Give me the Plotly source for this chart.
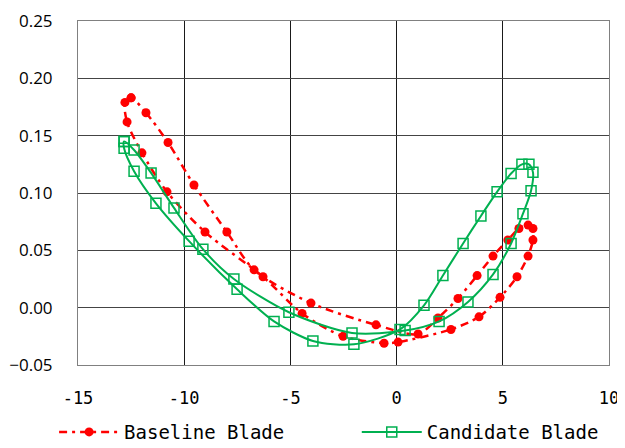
import plotly.graph_objects as go

# Baseline Blade (closed loop)
baseline_x = [-12.50, -11.80, -10.76, -9.54, -7.99, -6.71, -4.03, -0.97, 1.01, 1.95,
              2.89, 3.79, 4.54, 5.24, 5.76, 6.19, 6.42, 6.42, 6.19, 5.67,
              4.87, 3.88, 2.56, 0.07, -0.59, -2.52, -4.45, -6.29, -9.02, -10.81,
              -11.99, -12.69, -12.79, -12.50]
baseline_y = [0.183, 0.170, 0.144, 0.107, 0.066, 0.033, 0.004, -0.015, -0.023, -0.009,
              0.008, 0.028, 0.045, 0.059, 0.069, 0.072, 0.069, 0.059, 0.045, 0.027,
              0.009, -0.008, -0.019, -0.030, -0.031, -0.025, -0.005, 0.027, 0.066, 0.101,
              0.135, 0.162, 0.179, 0.183]

# Candidate Blade (closed loop)
candidate_x = [-12.83, -12.36, -11.56, -10.48, -9.12, -7.66, -5.07, -2.10, 0.40, 2.00,
               3.36, 4.54, 5.39, 5.95, 6.33, 6.42, 6.23, 5.90, 5.39, 4.73,
               3.97, 3.13, 2.18, 1.29, 0.16, -2.01, -3.94, -5.77, -7.51, -9.77,
               -11.33, -12.36, -12.83, -12.83]
candidate_y = [0.145, 0.1375, 0.1175, 0.087, 0.051, 0.025, -0.004, -0.022, -0.020, -0.012,
               0.005, 0.029, 0.056, 0.082, 0.102, 0.118, 0.125, 0.125, 0.117, 0.101,
               0.080, 0.056, 0.028, 0.002, -0.019, -0.032, -0.029, -0.012, 0.016, 0.058,
               0.091, 0.119, 0.139, 0.145]

x_ticks = [-15, -10, -5, 0, 5, 10]
y_ticks = [-0.05, 0.00, 0.05, 0.10, 0.15, 0.20, 0.25]

RED = "#FF0000"
GREEN = "#00B050"

fig = go.Figure()
fig.add_trace(go.Scatter(
    x=baseline_x, y=baseline_y, name="Baseline Blade", mode="lines+markers",
    line=dict(color=RED, width=2.5, dash="8px,5px,3px,5px", shape="spline", smoothing=0.8),
    marker=dict(symbol="circle", size=9, color=RED),
    legend="legend",
))
fig.add_trace(go.Scatter(
    x=candidate_x, y=candidate_y, name="Candidate Blade", mode="lines+markers",
    line=dict(color=GREEN, width=2, shape="spline", smoothing=0.8),
    marker=dict(symbol="square-open", size=10, color=GREEN, line=dict(width=1.5)),
    legend="legend2",
))

legend_font = dict(family="DejaVu Sans Mono", size=19, color="#000000")
fig.update_layout(
    width=617, height=440,
    margin=dict(l=70, r=16, t=13, b=83, autoexpand=False),
    paper_bgcolor="white", plot_bgcolor="white",
    showlegend=True,
    legend=dict(orientation="h", x=-0.045, xanchor="left", y=-0.195, yanchor="middle",
                itemwidth=60, font=legend_font, bgcolor="rgba(0,0,0,0)"),
    legend2=dict(orientation="h", x=0.525, xanchor="left", y=-0.195, yanchor="middle",
                 itemwidth=60, font=legend_font, bgcolor="rgba(0,0,0,0)"),
)
fig.update_xaxes(range=[-15, 10], tickvals=x_ticks, ticktext=[str(v) for v in x_ticks],
                 showgrid=True, gridcolor="#1a1a1a", gridwidth=1,
                 showline=True, linecolor="#808080", linewidth=1, mirror=True,
                 zeroline=False, ticks="", ticklabelstandoff=18, automargin=False,
                 tickfont=dict(family="DejaVu Sans Mono", size=17, color="#000000"))
fig.update_yaxes(range=[-0.05, 0.25], tickvals=y_ticks, tickformat=".2f",
                 showgrid=True, gridcolor="#444444", gridwidth=1,
                 showline=True, linecolor="#808080", linewidth=1, mirror=True,
                 zeroline=False, ticks="", ticklabelstandoff=21, automargin=False,
                 tickfont=dict(family="Open Sans", size=17, color="#000000"))

fig.write_html("out.html")
